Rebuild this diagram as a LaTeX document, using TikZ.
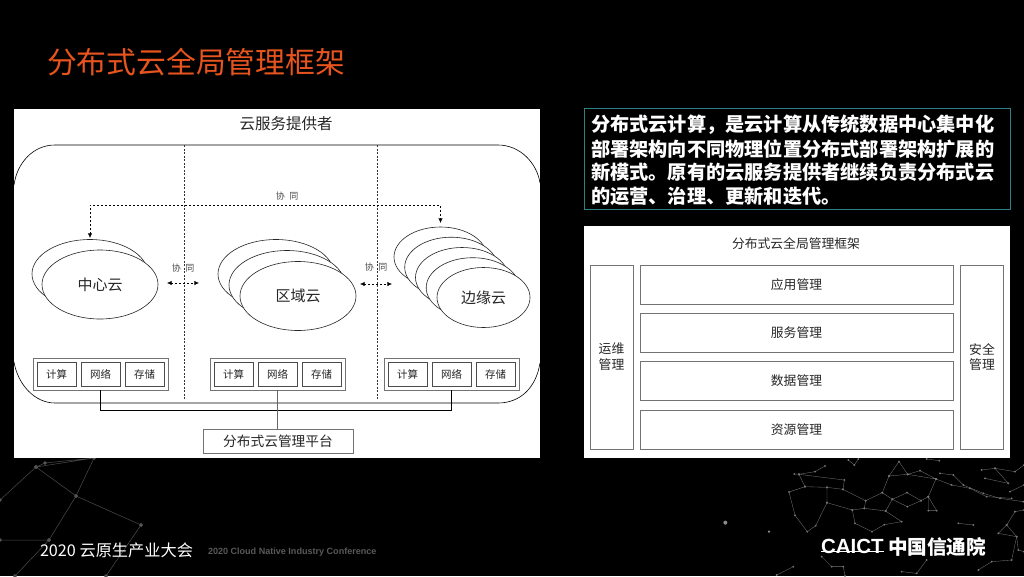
\documentclass[tikz,border=0pt]{standalone}
\usepackage{fontspec}
\setmainfont{Noto Sans CJK SC}
\newfontfamily\latinfont{Liberation Sans}
\usepackage{xcolor}
\usetikzlibrary{arrows.meta, positioning, calc, shapes.geometric}
\definecolor{titleorange}{HTML}{E8541E}
\definecolor{tealline}{HTML}{2F7F86}
\newcommand{\fsize}[1]{\fontsize{#1}{#1}\selectfont}

\begin{document}
\begin{tikzpicture}[
  x=1pt, y=-1pt,
  every node/.style={inner sep=0pt, outer sep=0pt, text=black!85},
  cell/.style={draw=black!70, fill=white, line width=0.7pt, minimum width=39pt, minimum height=24pt, font=\fsize{10.5}},
  group/.style={draw=black!55, fill=white, line width=0.7pt, minimum width=135pt, minimum height=32pt},
  cloudy/.style={draw=black!85, fill=white, ellipse, line width=0.6pt, minimum width=116pt, minimum height=69pt, font=\fsize{15}},
  edgy/.style={cloudy, minimum width=93pt, minimum height=60pt},
  layer/.style={draw=black!55, fill=white, line width=0.7pt, minimum width=313pt, minimum height=39pt, font=\fsize{12.8}},
  side/.style={draw=black!55, fill=white, line width=0.7pt, minimum width=43pt, minimum height=184pt, align=center, font=\fsize{12.8}},
  note/.style={font=\fsize{9}, text=black!70},
  arr/.style={{Latex[length=1.6mm,width=1.5mm]}-{Latex[length=1.6mm,width=1.5mm]}, line width=0.6pt, dash pattern=on 2pt off 2pt},
  web/.style={draw=white!45!black, line width=0.35pt, mark=*, mark size=0.7pt, mark options={solid, fill=white!60!black, draw=none}},
]
  \useasboundingbox (0,0) rectangle (1024,576);
  \fill[black] (0,0) rectangle (1024,576);

  % backdrop
  \begin{scope}[web/.append style={line width=0.5pt, draw=white!30!black, mark size=1.6pt, mark options={solid, fill=white!35!black, draw=none}}]
    \draw[web] plot coordinates {(0,500) (36,467) (76,496) (141,525)};
    \draw[web] plot coordinates {(36,467) (94,458) (45,463) (36,467)};
    \draw[web] plot coordinates {(94,458) (76,496) (49,540)};
    \draw[web] plot coordinates {(0,540) (49,540) (15,576)};
    \draw[web] plot coordinates {(141,525) (106,576)};
  \end{scope}
  \begin{scope}[shift={(700,455)}, x=0.3333pt, y=-0.3333pt]
    \draw[web] plot coordinates {(283,57) (297,58) (345,50) (375,33)};
    \draw[web] plot coordinates {(297,58) (433,75) (429,103) (381,97) (315,95) (267,111) (285,181) (322,230) (347,212) (381,143) (381,97)};
    \draw[web] plot coordinates {(297,58) (315,95)};
    \draw[web] plot coordinates {(429,103) (497,137) (547,113) (577,133) (621,113) (663,137) (622,155) (577,133) (557,168) (493,160) (457,165) (381,143)};
    \draw[web] plot coordinates {(457,165) (465,205) (516,230) (553,209) (605,200) (557,168)};
    \draw[web] plot coordinates {(493,160) (497,137)};
    \draw[web] plot coordinates {(547,113) (567,63) (597,20) (623,58) (567,63)};
    \draw[web] plot coordinates {(623,58) (660,47) (708,72) (623,58)};
    \draw[web] plot coordinates {(708,72) (685,125) (663,137)};
    \draw[web] plot coordinates {(685,125) (685,167) (710,167) (685,125)};
    \draw[web] plot coordinates {(720,55) (760,60) (790,90) (850,115) (900,130) (970,140)};
    \draw[web] plot coordinates {(708,72) (755,90) (810,100) (860,125) (935,130)};
    \draw[web] plot coordinates {(845,45) (885,40) (945,50) (972,30)};
    \draw[web] plot coordinates {(855,70) (925,85) (885,40)};
    \draw[web] plot coordinates {(930,110) (972,90)};
    \draw[web] plot coordinates {(972,165) (945,170) (920,210) (895,235) (950,245) (955,285) (972,290)};
    \draw[web] plot coordinates {(920,210) (950,245) (935,315) (875,320) (835,345)};
    \draw[web] plot coordinates {(775,205) (820,210)};
    \draw[web] plot coordinates {(680,315) (650,355) (605,350)};
    \draw[web] plot coordinates {(365,305) (395,335) (430,335) (435,363)};
    \draw[web] plot coordinates {(280,335) (230,360)};
    \draw[web] plot coordinates {(445,15) (463,30) (475,12)};
    \draw[web] plot coordinates {(680,12) (718,17)};
    \fill[white!55!black] (76,203) circle (2pt) (207,230) circle (1.2pt);
  \end{scope}

  \node[anchor=west, text=titleorange, font=\fsize{29.8}] (title) at (47,62) {分布式云全局管理框架};

  % left panel
  \fill[white] (14,109) rectangle (540,458);
  \node[font=\fsize{15.5}] (provider) at (286,124) {云服务提供者};
  \draw[black, line width=0.6pt] (14,185) .. controls (17,163) and (33,145) .. (55,145) -- (498,145) .. controls (520,145) and (537,163) .. (540,183);
  \draw[black, line width=0.6pt] (14,362) .. controls (18,385) and (35,403) .. (55,403) -- (498,403) .. controls (520,403) and (536,388) .. (540,363);
  \draw[black!80, line width=0.5pt, dash pattern=on 2pt off 1.5pt] (184,145) -- (184,400);
  \draw[black!80, line width=0.5pt, dash pattern=on 2pt off 1.5pt] (377,145) -- (377,400);

  \node[cloudy] (centerb) at (90,274) {};
  \node[cloudy] (centera) at (100,284.5) {中心云};
  \node[cloudy] (regionc) at (276,274) {};
  \node[cloudy] (regionb) at (287,285) {};
  \node[cloudy] (regiona) at (298,296) {区域云};
  \node[edgy] (edgee) at (440.5,257) {};
  \node[edgy] (edged) at (451.2,267.2) {};
  \node[edgy] (edgec) at (462,277.5) {};
  \node[edgy] (edgeb) at (472.7,287.7) {};
  \node[edgy] (edgea) at (483.5,297.5) {边缘云};

  \coordinate (syncup) at (264,205);
  \coordinate (syncla) at (167,283);
  \coordinate (synclb) at (199,283);
  \coordinate (syncra) at (360,284);
  \coordinate (syncrb) at (392,284);
  \draw[arr, shorten <=1.5pt, shorten >=4pt] (centerb.north) |- (syncup) -| (edgee.north);
  \draw[arr] (syncla) -- (synclb);
  \draw[arr] (syncra) -- (syncrb);
  \node[note] (synctop) at (287,196) {协\enspace 同};
  \node[note] (syncleft) at (183,268) {协\enspace 同};
  \node[note] (syncright) at (376,267) {协\enspace 同};

  \foreach \nm/\x in {a/100.5, b/277.5, c/451.5} {
    \node[group] (grp\nm) at (\x,374) {};
    \node[cell] (calc\nm) at (\x-44,374) {计算};
    \node[cell] (net\nm) at (\x,374) {网络};
    \node[cell] (store\nm) at (\x+44,374) {存储};
  }

  \node[draw=black!55, fill=white, line width=0.7pt, minimum width=150pt, minimum height=24pt, font=\fsize{13.7}] (platform) at (278,441) {分布式云管理平台};
  \draw[black, line width=0.8pt] (grpa.south) -- ++(0,20) -| (grpc.south);
  \draw[black!60, line width=0.7pt] (grpb.south) -- (platform.north -| grpb.south);

  % text box
  \node[draw=tealline, line width=0.8pt, anchor=north west, minimum width=426pt, minimum height=101pt] (textframe) at (584,108) {};
  \node[anchor=west, align=left, text=white, font=\fsize{19.2}\bfseries, inner sep=0pt] (textbody) at (591,160) {%
    分布式云计算，是云计算从传统数据中心集中化\\[4.1pt]
    部署架构向不同物理位置分布式部署架构扩展的\\[4.1pt]
    新模式。原有的云服务提供者继续负责分布式云\\[4.1pt]
    的运营、治理、更新和迭代。};

  % right panel
  \fill[white] (584,226) rectangle (1010,458);
  \node[font=\fsize{12.8}] (frametitle) at (796,244) {分布式云全局管理框架};
  \node[side] (opsbox) at (611.5,357) {运维\\[3pt]管理};
  \node[layer] (appbox) at (796.5,284.5) {应用管理};
  \node[layer] (svcbox) at (796.5,332.5) {服务管理};
  \node[layer] (databox) at (796.5,381) {数据管理};
  \node[layer] (resbox) at (796.5,429.5) {资源管理};
  \node[side] (secbox) at (982,357) {安全\\[3pt]管理};

  % footer
  \node[anchor=west, text=white, font=\fsize{16.2}] (confcn) at (40,550) {2020 云原生产业大会};
  \node[anchor=west, text=white!35!black, font=\latinfont\fsize{9.05}\bfseries] (confen) at (208,552) {2020 Cloud Native Industry Conference};
  \node[anchor=west, text=white, font=\latinfont\fsize{20.5}\bfseries, inner sep=0pt] (caict) at (821,546) {CAICT};
  \draw[white, line width=1.3pt] ([yshift=2pt]caict.south west) -- ([yshift=2pt]caict.south east);
  \node[anchor=west, text=white, font=\fsize{19.6}\bfseries] (caictcn) at (888,547) {中国信通院};
\end{tikzpicture}
\end{document}
